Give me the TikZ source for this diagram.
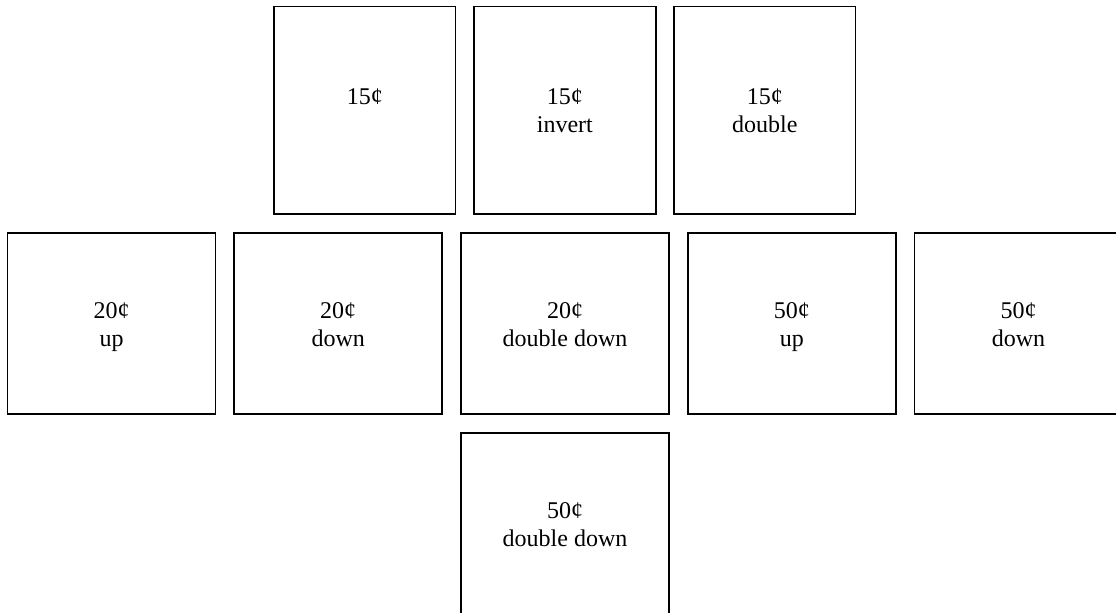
\documentclass[tikz,border=0pt]{standalone}
\usepackage{fontspec}
\setmainfont{Liberation Serif}
\newcommand{\celltext}[2]{\rule{0pt}{12.6pt}#1\\\raisebox{0pt}[10pt][0pt]{#2}}
\begin{document}
\begin{tikzpicture}[x=0.75pt,y=-0.75pt,
  txt/.style={align=center,inner sep=0pt,font=\fontsize{18}{21}\selectfont},
  cell/.style={txt,draw=black,line width=1.3pt,outer sep=0pt},
  tall/.style={cell,minimum width=136.1pt,minimum height=155.85pt},
  wide/.style={cell,minimum width=156pt,minimum height=135.75pt},
  sq/.style={cell,minimum width=156pt,minimum height=156pt}]
\useasboundingbox (0,0) rectangle (1116,613);
\clip (0,0) rectangle (1116,613);
% row 1
\node[tall] (a1) at (364.75,110.4) {\celltext{15¢}{}};
\node[tall] (a2) at (564.9,110.4) {\celltext{15¢}{invert}};
\node[tall] (a3) at (764.8,110.4) {\celltext{15¢}{double}};
% row 2
\node[wide] (b1) at (111.5,323.8) {\celltext{20¢}{up}};
\node[wide] (b2) at (338.2,323.8) {\celltext{20¢}{down}};
\node[wide] (b3) at (565,323.8) {\celltext{20¢}{double down}};
\node[wide] (b4) at (791.8,323.8) {\celltext{50¢}{up}};
\node[wide] (b5) at (1018.5,323.8) {\celltext{50¢}{down}};
% row 3
\node[sq,label={[txt,name=c1t,yshift=10pt]center:\celltext{50¢}{double down}}] (c1) at (565,537.3) {};
\end{tikzpicture}
\end{document}
